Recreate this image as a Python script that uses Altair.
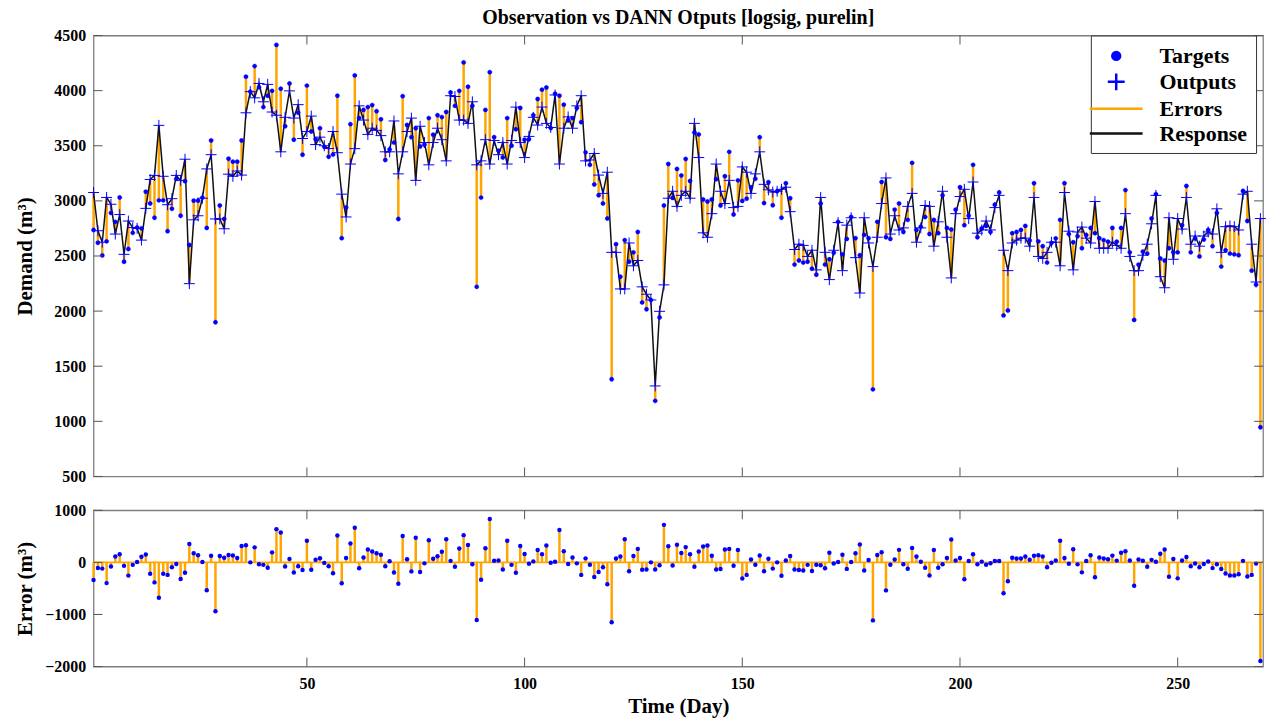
import altair as alt
import pandas as pd

days = list(range(1, 270))

targets = [
    2736, 2620, 2505, 2633, 2891, 2810, 3031, 2448, 2563, 2710,
    2758, 2751, 3083, 2976, 2847, 3005, 3005, 2725, 2928, 3200,
    2865, 3179, 2600, 3002, 3002, 3030, 2755, 3548, 1899, 2958,
    2836, 3382, 3356, 3356, 3548, 4127, 3991, 4223, 4030, 3851,
    3954, 3998, 4415, 4017, 3677, 4065, 3555, 3800, 3419, 4046,
    3629, 3560, 3659, 3490, 3400, 3420, 3954, 2662, 2940, 3696,
    4138, 3751, 3825, 3851, 3869, 3814, 3740, 3371, 3467, 3529,
    2836, 3950, 3688, 3578, 3659, 3493, 3510, 3751, 3600, 3777,
    3760, 3806, 3983, 3862, 3998, 4256, 4035, 3862, 2220, 3030,
    3825, 4168, 3578, 3456, 3393, 3751, 3500, 3650, 3843, 3555,
    3560, 3777, 3924, 4009, 4028, 3660, 3972, 3954, 3873, 3730,
    3751, 3843, 3714, 3440, 3327, 3149, 3050, 2976, 2840, 1382,
    2607, 2312, 2644, 2448, 2533, 2718, 2079, 2017, 2101, 1186,
    1943, 2958, 3334, 3027, 3290, 3230, 3380, 3180, 3620, 3603,
    3013, 2994, 3013, 3197, 2958, 3223, 3445, 2876, 3186, 3000,
    3020, 3124, 3200, 3578, 2980, 3170, 2960, 3087, 2847, 3160,
    3024, 2422, 2459, 2440, 2448, 2385, 2330, 2976, 2422, 2470,
    2530, 2810, 2515, 2655, 2854, 2662, 2507, 2692, 2662, 1290,
    2810, 3171, 2670, 2655, 2921, 2976, 2718, 2828, 3345, 2736,
    2766, 2854, 2699, 2828, 2707, 3050, 2755, 2740, 2921, 3124,
    2780, 2865, 3327, 2670, 2750, 2773, 2718, 2965, 3076, 1961,
    2005, 2707, 2718, 2736, 2773, 2640, 3160, 2633, 2589, 2440,
    2618, 2660, 2828, 3160, 2700, 2625, 2680, 2570, 2690, 2755,
    2707, 2662, 2644, 2630, 2755, 2630, 2755, 3098, 2533, 1920,
    2422, 2540, 2522, 2840, 3061, 2478, 2459, 2570, 2533, 2533,
    2780, 3135, 2533, 2660, 2496, 2650, 2736, 2589, 2891, 2404,
    2552, 2522, 2515, 2507, 3090, 2817, 2367, 2240, 946,
]

outputs = [
    3076, 2729, 2625, 3031, 2969, 2699, 2876, 2515, 2817, 2758,
    2751, 2644, 2932, 3194, 3231, 3685, 3223, 2965, 3020, 3231,
    3186, 3378, 2249, 2828, 2865, 3024, 3290, 3419, 2836, 2836,
    2747, 3242, 3223, 3271, 3234, 3799, 3991, 3935, 4065, 3899,
    4057, 3806, 3777, 3445, 3758, 3998, 3751, 3873, 3566, 3629,
    3769, 3511, 3578, 3500, 3475, 3629, 3437, 3061, 2854, 3334,
    3474, 3862, 3733, 3603, 3659, 3640, 3592, 3445, 3445, 3725,
    3245, 3445, 3629, 3751, 3186, 3677, 3529, 3327, 3529, 3659,
    3555, 3363, 3954, 3947, 3733, 3733, 3703, 3899, 3327, 3363,
    3555, 3334, 3548, 3419, 3529, 3334, 3548, 3851, 3529, 3393,
    3585, 3758, 3688, 3851, 3703, 3666, 3961, 3334, 3659, 3762,
    3659, 3862, 3954, 3363, 3371, 3430, 3234, 3068, 3260, 2533,
    2533, 2201, 2201, 2618, 2411, 2459, 2220, 2153, 2101, 1321,
    1998, 2238, 3024, 3087, 2950, 3050, 3087, 3024, 3703, 3393,
    2710, 2670, 2884, 3334, 3087, 2976, 3186, 2939, 2950, 3308,
    3260, 3068, 3245, 3445, 3150, 3100, 3080, 3087, 3105, 3124,
    2902, 2559, 2607, 2596, 2496, 2552, 2374, 3031, 2533, 2286,
    2552, 2803, 2367, 2780, 2847, 2485, 2164, 2847, 2618, 2404,
    2670, 2976, 3208, 2699, 2865, 2736, 2755, 2950, 3068, 2625,
    2755, 2958, 2950, 2589, 2810, 3087, 2670, 2301, 2884, 3039,
    3105, 2839, 3171, 2707, 2736, 2817, 2736, 2939, 3050, 2552,
    2367, 2618, 2644, 2662, 2662, 2589, 3031, 2496, 2478, 2533,
    2625, 2625, 2411, 3076, 2725, 2374, 2718, 2762, 2662, 2618,
    2994, 2570, 2570, 2570, 2625, 2596, 2570, 2884, 2496, 2367,
    2367, 2507, 2607, 2792, 3050, 2312, 2212, 2847, 2470, 2840,
    2744, 3031, 2607, 2681, 2589, 2681, 2718, 2699, 2928, 2533,
    2766, 2773, 2766, 2736, 3061, 3087, 2607, 2264, 2840,
]

x_tick_values = [50, 100, 150, 200, 250]
demand_tick_values = [500, 1000, 1500, 2000, 2500, 3000, 3500, 4000, 4500]
error_tick_values = [-2000, -1000, 0, 1000]
series_names = ["Targets", "Outputs", "Errors", "Response"]
series_colors = ["#0000ff", "#0000ff", "#ffa500", "#111111"]

circle_path = "M-0.36,0A0.36,0.36,0,1,0,0.36,0A0.36,0.36,0,1,0,-0.36,0Z"
plus_path = "M-0.77,0L0.77,0M0,-0.77L0,0.77"
line_path = "M-2.41,0L2.41,0"
series_shapes = [circle_path, plus_path, line_path, line_path]

W = 1175
H_TOP = 443
H_BOT = 157
TICK = 9
FONT = "Liberation Serif"
TICK_COLOR = "#555555"

df = pd.DataFrame({"day": days, "target": targets, "output": outputs})
df["error"] = df["target"] - df["output"]
df["zero"] = 0

xs = alt.Scale(domain=[1, 269.6], nice=False, zero=False)
ys_top = alt.Scale(domain=[500, 4500], nice=False, zero=False)
ys_bot = alt.Scale(domain=[-2000, 1000], nice=False, zero=False)

axis_common = dict(
    labelFont=FONT, labelFontSize=16, labelFontWeight="bold", labelColor="black",
    titleFont=FONT, titleFontSize=21, titleFontWeight="bold", titleColor="black",
    ticks=False, domain=False, grid=False, format="d",
)

top_y_axis = alt.Axis(
    values=demand_tick_values, title="Demand (m³)", labelPadding=8,
    titleX=-68, titleY=H_TOP / 2, titleAngle=270, titleAlign="center",
    titleBaseline="middle", **axis_common,
)
bot_y_axis = alt.Axis(
    values=error_tick_values, title="Error (m³)", labelPadding=8,
    titleX=-68, titleY=H_BOT / 2, titleAngle=270, titleAlign="center",
    titleBaseline="middle", **axis_common,
)
bot_x_axis = alt.Axis(
    values=x_tick_values, title="Time (Day)", labelPadding=9, titlePadding=4,
    **axis_common,
)

legend = alt.Legend(
    title=None, orient="none", legendX=1002, legendY=0,
    fillColor="white", strokeColor="#333333", padding=8,
    labelFont=FONT, labelFontSize=22, labelFontWeight="bold", labelColor="black",
    symbolSize=484, symbolStrokeWidth=2.5, symbolOffset=5, labelOffset=31,
    rowPadding=1,
)

stroke_enc = alt.Stroke("series:N", scale=alt.Scale(domain=series_names, range=series_colors), legend=legend)
fill_enc = alt.Fill("series:N", scale=alt.Scale(domain=series_names, range=series_colors), legend=legend)
shape_enc = alt.Shape("series:N", scale=alt.Scale(domain=series_names, range=series_shapes), legend=legend)

x_top = alt.X("day:Q", scale=xs, axis=None)

errors = alt.Chart(df).transform_calculate(series="'Errors'").mark_rule(strokeWidth=2.5).encode(
    x=x_top,
    y=alt.Y("output:Q", scale=ys_top, axis=top_y_axis),
    y2="target:Q",
    stroke=stroke_enc,
)
response = alt.Chart(df).transform_calculate(series="'Response'").mark_line(strokeWidth=1.5).encode(
    x=x_top,
    y=alt.Y("output:Q", scale=ys_top, axis=top_y_axis),
    stroke=stroke_enc,
)
outs = alt.Chart(df).transform_calculate(series="'Outputs'").mark_point(size=204, strokeWidth=1, opacity=1).encode(
    x=x_top,
    y=alt.Y("output:Q", scale=ys_top, axis=top_y_axis),
    shape=shape_enc, stroke=stroke_enc, fill=fill_enc,
)
tgts = alt.Chart(df).transform_calculate(series="'Targets'").mark_point(filled=True, size=149, strokeWidth=0.3, opacity=1).encode(
    x=x_top,
    y=alt.Y("target:Q", scale=ys_top, axis=top_y_axis),
    shape=shape_enc, stroke=stroke_enc, fill=fill_enc,
)

ytick_top = pd.DataFrame({"v": demand_tick_values})
ytick_bot = pd.DataFrame({"v": error_tick_values})
xtick = pd.DataFrame({"v": x_tick_values})


def inward_ticks(ydf, yscale, yaxis, height, xaxis):
    left = alt.Chart(ydf).mark_rule(color=TICK_COLOR, strokeWidth=1).encode(
        y=alt.Y("v:Q", scale=yscale, axis=yaxis), x=alt.value(0), x2=alt.value(TICK))
    right = alt.Chart(ydf).mark_rule(color=TICK_COLOR, strokeWidth=1).encode(
        y=alt.Y("v:Q", scale=yscale, axis=yaxis), x=alt.value(W - TICK), x2=alt.value(W))
    bottom = alt.Chart(xtick).mark_rule(color=TICK_COLOR, strokeWidth=1).encode(
        x=alt.X("v:Q", scale=xs, axis=xaxis), y=alt.value(height), y2=alt.value(height - TICK))
    top = alt.Chart(xtick).mark_rule(color=TICK_COLOR, strokeWidth=1).encode(
        x=alt.X("v:Q", scale=xs, axis=xaxis), y=alt.value(0), y2=alt.value(TICK))
    return [left, right, bottom, top]


top_chart = alt.layer(
    errors, response, outs, tgts,
    *inward_ticks(ytick_top, ys_top, top_y_axis, H_TOP, None),
).properties(
    width=W, height=H_TOP,
    title=alt.TitleParams(
        "Observation vs DANN Otputs [logsig, purelin]", font=FONT, fontSize=20,
        fontWeight="bold", color="black", anchor="middle", offset=0,
    ),
)

x_bot = alt.X("day:Q", scale=xs, axis=bot_x_axis)
zero_df = pd.DataFrame({"zero": [0]})
zero_line = alt.Chart(zero_df).mark_rule(color="#ffa500", strokeWidth=2).encode(
    y=alt.Y("zero:Q", scale=ys_bot, axis=bot_y_axis))
stems = alt.Chart(df).mark_rule(color="#ffa500", strokeWidth=2.5).encode(
    x=x_bot, y=alt.Y("error:Q", scale=ys_bot, axis=bot_y_axis), y2="zero:Q")
err_dots = alt.Chart(df).mark_circle(color="#0000ff", size=20, opacity=1).encode(
    x=x_bot, y=alt.Y("error:Q", scale=ys_bot, axis=bot_y_axis))

bottom_chart = alt.layer(
    zero_line, stems, err_dots,
    *inward_ticks(ytick_bot, ys_bot, bot_y_axis, H_BOT, bot_x_axis),
).properties(width=W, height=H_BOT)

chart = (
    alt.vconcat(top_chart, bottom_chart, spacing=16)
    .resolve_scale(x="independent", y="independent", stroke="independent",
                   fill="independent", shape="independent")
    .resolve_legend(stroke="independent", fill="independent", shape="independent")
    .properties(padding={"left": 14, "top": 5, "right": 0, "bottom": 0})
    .configure(font=FONT)
    .configure_view(stroke="#7f7f7f", strokeWidth=1.3)
)

chart.save("out.html", embed_options={"renderer": "svg", "actions": False})
